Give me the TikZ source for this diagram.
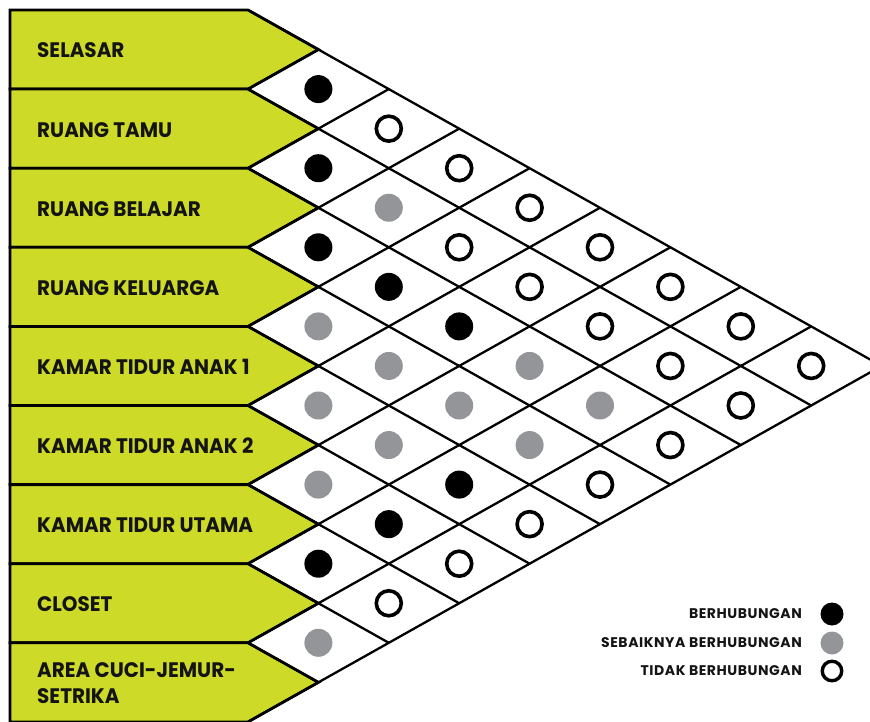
\documentclass[tikz,border=0pt]{standalone}
\usepackage{fontspec}
\setmainfont{Poppins}
\newfontfamily\labelfont{Poppins}[FakeStretch=0.95]
\newfontfamily\legendfont{Poppins}[LetterSpace=4]
\definecolor{boxgreen}{RGB}{205,219,40}
\definecolor{dotgrey}{RGB}{147,149,152}
\definecolor{ink}{RGB}{20,20,20}
\begin{document}
\begin{tikzpicture}[x=1pt,y=-1pt,
  rowbox/.style={fill=boxgreen,draw=black,line width=2.8pt,line join=miter},
  gridline/.style={draw=black,line width=2.3pt},
  rowlabel/.style={anchor=west,align=left,text=ink,inner sep=0pt,
    font=\labelfont\bfseries\fontsize{21}{26}\selectfont},
  full/.style={circle,fill=black,minimum size=28pt,inner sep=0pt},
  half/.style={circle,fill=dotgrey,minimum size=28pt,inner sep=0pt},
  none/.style={circle,draw=black,line width=3.6pt,minimum size=25pt,inner sep=0pt},
  legtext/.style={anchor=east,text=ink,inner sep=0pt,
    font=\legendfont\bfseries\fontsize{14}{15}\selectfont},
  legfull/.style={circle,fill=black,minimum size=23pt,inner sep=0pt},
  leghalf/.style={circle,fill=dotgrey,minimum size=23pt,inner sep=0pt},
  legnone/.style={circle,draw=black,line width=3.4pt,minimum size=19.5pt,inner sep=0pt}]
\clip (0,0) rectangle (870,722);
% grid metrics: row height, half diamond width, left edge of the matrix
\def\R{79.1}
\def\H{39.55}
\def\W{70.4}
\def\xr{248}
% label arrows
\foreach \i/\lab in {1/SELASAR,2/RUANG TAMU,3/RUANG BELAJAR,4/RUANG KELUARGA,
  5/KAMAR TIDUR ANAK 1,6/KAMAR TIDUR ANAK 2,7/KAMAR TIDUR UTAMA,8/CLOSET,
  9/{AREA CUCI-JEMUR-\\SETRIKA}} {
  \pgfmathsetmacro\yt{10+\R*(\i-1)}
  \pgfmathsetmacro\yb{10+\R*\i}
  \pgfmathsetmacro\ym{10+\R*(\i-0.5)}
  \pgfmathsetmacro\xt{\xr+\W}
  \draw[rowbox] (10,\yt) -- (\xr,\yt) -- (\xt,\ym) -- (\xr,\yb) -- (10,\yb) -- cycle;
  \node[rowlabel] (row\i) at (37,\ym+1) {\lab};
}
% diagonal lattice of the matrix
\foreach \k in {0,...,9} {
  \pgfmathsetmacro\yk{10+\R*\k}
  \pgfmathsetmacro\xd{\xr+(9-\k)*\W}
  \pgfmathsetmacro\yd{\yk+(9-\k)*\H}
  \pgfmathsetmacro\xu{\xr+\k*\W}
  \pgfmathsetmacro\yu{\yk-\k*\H}
  \draw[gridline] (\xr,\yk) -- (\xd,\yd);
  \draw[gridline] (\xr,\yk) -- (\xu,\yu);
}
% relations between spaces i and j
\foreach \i/\j in {1/2,2/3,3/4,3/5,3/6,5/8,6/8,7/8} {
  \pgfmathsetmacro\cx{\xr+\W*(\j-\i)}
  \pgfmathsetmacro\cy{10+\R*((\i+\j)/2-0.5)}
  \node[full] (c\i-\j) at (\cx,\cy) {};
}
\foreach \i/\j in {2/4,4/5,4/6,3/7,5/6,4/7,3/8,5/7,4/8,6/7,8/9} {
  \pgfmathsetmacro\cx{\xr+\W*(\j-\i)}
  \pgfmathsetmacro\cy{10+\R*((\i+\j)/2-0.5)}
  \node[half] (c\i-\j) at (\cx,\cy) {};
}
\foreach \i/\j in {1/3,1/4,1/5,2/5,1/6,2/6,1/7,2/7,1/8,2/8,1/9,2/9,3/9,4/9,5/9,6/9,7/9} {
  \pgfmathsetmacro\cx{\xr+\W*(\j-\i)}
  \pgfmathsetmacro\cy{10+\R*((\i+\j)/2-0.5)}
  \node[none] (c\i-\j) at (\cx,\cy) {};
}
% legend
\node[legtext] (l1) at (802,614) {BERHUBUNGAN};
\node[legtext] (l2) at (802,643) {SEBAIKNYA BERHUBUNGAN};
\node[legtext] (l3) at (802,671) {TIDAK BERHUBUNGAN};
\node[legfull] (k1) at (832,614) {};
\node[leghalf] (k2) at (832,643) {};
\node[legnone] (k3) at (832,671) {};
\end{tikzpicture}
\end{document}
